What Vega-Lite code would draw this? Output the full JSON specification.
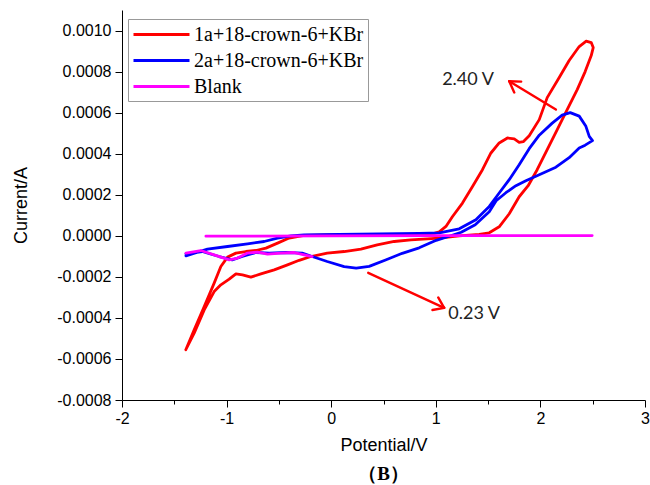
{
  "$schema": "https://vega.github.io/schema/vega-lite/v6.json",
  "width": 523,
  "height": 390,
  "autosize": "none",
  "padding": {"left": 122, "top": 10, "right": 5, "bottom": 85},
  "background": "white",
  "title": {"text": "（B）", "orient": "bottom", "anchor": "middle", "frame": "group", "offset": 11, "font": "Liberation Serif", "fontSize": 19, "fontWeight": "bold", "color": "#000"},
  "config": {
    "view": {"stroke": null},
    "axis": {"labelFont": "Liberation Sans", "labelFontSize": 16, "labelColor": "#000", "titleFont": "Liberation Sans", "titleFontSize": 18, "titleFontWeight": "normal", "titleColor": "#000", "domainColor": "#000", "tickColor": "#000", "grid": false, "labelOverlap": false, "labelBound": false, "labelFlush": false}
  },
  "datasets": {
    "cv": [
      {"series": "1a+18-crown-6+KBr", "seg": "a", "i": 1, "potential": -1.39, "current": -0.000555},
      {"series": "1a+18-crown-6+KBr", "seg": "a", "i": 2, "potential": -1.31, "current": -0.0004585},
      {"series": "1a+18-crown-6+KBr", "seg": "a", "i": 3, "potential": -1.214, "current": -0.0003449},
      {"series": "1a+18-crown-6+KBr", "seg": "a", "i": 4, "potential": -1.119, "current": -0.0002307},
      {"series": "1a+18-crown-6+KBr", "seg": "a", "i": 5, "potential": -1.055, "current": -0.0001498},
      {"series": "1a+18-crown-6+KBr", "seg": "a", "i": 6, "potential": -0.991, "current": -0.0001039},
      {"series": "1a+18-crown-6+KBr", "seg": "a", "i": 7, "potential": -0.911, "current": -0.0000844},
      {"series": "1a+18-crown-6+KBr", "seg": "a", "i": 8, "potential": -0.816, "current": -0.0000766},
      {"series": "1a+18-crown-6+KBr", "seg": "a", "i": 9, "potential": -0.72, "current": -0.0000717},
      {"series": "1a+18-crown-6+KBr", "seg": "a", "i": 10, "potential": -0.624, "current": -0.00006},
      {"series": "1a+18-crown-6+KBr", "seg": "a", "i": 11, "potential": -0.513, "current": -0.0000356},
      {"series": "1a+18-crown-6+KBr", "seg": "a", "i": 12, "potential": -0.402, "current": -0.0000112},
      {"series": "1a+18-crown-6+KBr", "seg": "a", "i": 13, "potential": -0.258, "current": 0.0000024},
      {"series": "1a+18-crown-6+KBr", "seg": "a", "i": 14, "potential": -0.019, "current": 0.0000049},
      {"series": "1a+18-crown-6+KBr", "seg": "a", "i": 15, "potential": 0.268, "current": 0.0000049},
      {"series": "1a+18-crown-6+KBr", "seg": "a", "i": 16, "potential": 0.554, "current": 0.0000049},
      {"series": "1a+18-crown-6+KBr", "seg": "a", "i": 17, "potential": 0.841, "current": 0.0000073},
      {"series": "1a+18-crown-6+KBr", "seg": "a", "i": 18, "potential": 0.985, "current": 0.0000122},
      {"series": "1a+18-crown-6+KBr", "seg": "a", "i": 19, "potential": 1.033, "current": 0.0000195},
      {"series": "1a+18-crown-6+KBr", "seg": "a", "i": 20, "potential": 1.097, "current": 0.0000454},
      {"series": "1a+18-crown-6+KBr", "seg": "a", "i": 21, "potential": 1.16, "current": 0.0000941},
      {"series": "1a+18-crown-6+KBr", "seg": "a", "i": 22, "potential": 1.255, "current": 0.0001595},
      {"series": "1a+18-crown-6+KBr", "seg": "a", "i": 23, "potential": 1.351, "current": 0.0002405},
      {"series": "1a+18-crown-6+KBr", "seg": "a", "i": 24, "potential": 1.446, "current": 0.000322},
      {"series": "1a+18-crown-6+KBr", "seg": "a", "i": 25, "potential": 1.527, "current": 0.0004034},
      {"series": "1a+18-crown-6+KBr", "seg": "a", "i": 26, "potential": 1.606, "current": 0.0004522},
      {"series": "1a+18-crown-6+KBr", "seg": "a", "i": 27, "potential": 1.685, "current": 0.0004766},
      {"series": "1a+18-crown-6+KBr", "seg": "a", "i": 28, "potential": 1.75, "current": 0.0004717},
      {"series": "1a+18-crown-6+KBr", "seg": "a", "i": 29, "potential": 1.797, "current": 0.0004551},
      {"series": "1a+18-crown-6+KBr", "seg": "a", "i": 30, "potential": 1.836, "current": 0.0004585},
      {"series": "1a+18-crown-6+KBr", "seg": "a", "i": 31, "potential": 1.893, "current": 0.0004878},
      {"series": "1a+18-crown-6+KBr", "seg": "a", "i": 32, "potential": 1.989, "current": 0.0005659},
      {"series": "1a+18-crown-6+KBr", "seg": "a", "i": 33, "potential": 2.065, "current": 0.0006732},
      {"series": "1a+18-crown-6+KBr", "seg": "a", "i": 34, "potential": 2.18, "current": 0.0007707},
      {"series": "1a+18-crown-6+KBr", "seg": "a", "i": 35, "potential": 2.275, "current": 0.0008537},
      {"series": "1a+18-crown-6+KBr", "seg": "a", "i": 36, "potential": 2.371, "current": 0.000922},
      {"series": "1a+18-crown-6+KBr", "seg": "a", "i": 37, "potential": 2.438, "current": 0.0009488},
      {"series": "1a+18-crown-6+KBr", "seg": "a", "i": 38, "potential": 2.486, "current": 0.0009415},
      {"series": "1a+18-crown-6+KBr", "seg": "a", "i": 39, "potential": 2.505, "current": 0.0009171},
      {"series": "1a+18-crown-6+KBr", "seg": "a", "i": 40, "potential": 2.486, "current": 0.000878},
      {"series": "1a+18-crown-6+KBr", "seg": "a", "i": 41, "potential": 2.428, "current": 0.0008},
      {"series": "1a+18-crown-6+KBr", "seg": "a", "i": 42, "potential": 2.352, "current": 0.0007122},
      {"series": "1a+18-crown-6+KBr", "seg": "a", "i": 43, "potential": 2.256, "current": 0.0006146},
      {"series": "1a+18-crown-6+KBr", "seg": "a", "i": 44, "potential": 2.161, "current": 0.0005171},
      {"series": "1a+18-crown-6+KBr", "seg": "a", "i": 45, "potential": 2.065, "current": 0.0004195},
      {"series": "1a+18-crown-6+KBr", "seg": "a", "i": 46, "potential": 1.969, "current": 0.000322},
      {"series": "1a+18-crown-6+KBr", "seg": "a", "i": 47, "potential": 1.883, "current": 0.0002439},
      {"series": "1a+18-crown-6+KBr", "seg": "a", "i": 48, "potential": 1.797, "current": 0.0001902},
      {"series": "1a+18-crown-6+KBr", "seg": "a", "i": 49, "potential": 1.702, "current": 0.0001073},
      {"series": "1a+18-crown-6+KBr", "seg": "a", "i": 50, "potential": 1.606, "current": 0.0000439},
      {"series": "1a+18-crown-6+KBr", "seg": "a", "i": 51, "potential": 1.511, "current": 0.0000146},
      {"series": "1a+18-crown-6+KBr", "seg": "a", "i": 52, "potential": 1.415, "current": 0.0000073},
      {"series": "1a+18-crown-6+KBr", "seg": "a", "i": 53, "potential": 1.224, "current": 0.0},
      {"series": "1a+18-crown-6+KBr", "seg": "a", "i": 54, "potential": 1.033, "current": -0.0000112},
      {"series": "1a+18-crown-6+KBr", "seg": "a", "i": 55, "potential": 0.918, "current": -0.0000146},
      {"series": "1a+18-crown-6+KBr", "seg": "a", "i": 56, "potential": 0.762, "current": -0.0000195},
      {"series": "1a+18-crown-6+KBr", "seg": "a", "i": 57, "potential": 0.602, "current": -0.0000278},
      {"series": "1a+18-crown-6+KBr", "seg": "a", "i": 58, "potential": 0.44, "current": -0.0000439},
      {"series": "1a+18-crown-6+KBr", "seg": "a", "i": 59, "potential": 0.284, "current": -0.0000649},
      {"series": "1a+18-crown-6+KBr", "seg": "a", "i": 60, "potential": 0.124, "current": -0.0000766},
      {"series": "1a+18-crown-6+KBr", "seg": "a", "i": 61, "potential": -0.038, "current": -0.0000844},
      {"series": "1a+18-crown-6+KBr", "seg": "a", "i": 62, "potential": -0.194, "current": -0.000101},
      {"series": "1a+18-crown-6+KBr", "seg": "a", "i": 63, "potential": -0.306, "current": -0.0001195},
      {"series": "1a+18-crown-6+KBr", "seg": "a", "i": 64, "potential": -0.418, "current": -0.0001415},
      {"series": "1a+18-crown-6+KBr", "seg": "a", "i": 65, "potential": -0.545, "current": -0.0001659},
      {"series": "1a+18-crown-6+KBr", "seg": "a", "i": 66, "potential": -0.672, "current": -0.0001854},
      {"series": "1a+18-crown-6+KBr", "seg": "a", "i": 67, "potential": -0.768, "current": -0.0002015},
      {"series": "1a+18-crown-6+KBr", "seg": "a", "i": 68, "potential": -0.848, "current": -0.0001902},
      {"series": "1a+18-crown-6+KBr", "seg": "a", "i": 69, "potential": -0.911, "current": -0.0001854},
      {"series": "1a+18-crown-6+KBr", "seg": "a", "i": 70, "potential": -0.975, "current": -0.0002112},
      {"series": "1a+18-crown-6+KBr", "seg": "a", "i": 71, "potential": -1.055, "current": -0.000239},
      {"series": "1a+18-crown-6+KBr", "seg": "a", "i": 72, "potential": -1.119, "current": -0.0002717},
      {"series": "1a+18-crown-6+KBr", "seg": "a", "i": 73, "potential": -1.214, "current": -0.000361},
      {"series": "1a+18-crown-6+KBr", "seg": "a", "i": 74, "potential": -1.31, "current": -0.0004746},
      {"series": "1a+18-crown-6+KBr", "seg": "a", "i": 75, "potential": -1.39, "current": -0.000555},

      {"series": "2a+18-crown-6+KBr", "seg": "a", "i": 1, "potential": -1.389, "current": -0.0000976},
      {"series": "2a+18-crown-6+KBr", "seg": "a", "i": 2, "potential": -1.183, "current": -0.0000649},
      {"series": "2a+18-crown-6+KBr", "seg": "a", "i": 3, "potential": -0.991, "current": -0.0000522},
      {"series": "2a+18-crown-6+KBr", "seg": "a", "i": 4, "potential": -0.8, "current": -0.000039},
      {"series": "2a+18-crown-6+KBr", "seg": "a", "i": 5, "potential": -0.641, "current": -0.0000278},
      {"series": "2a+18-crown-6+KBr", "seg": "a", "i": 6, "potential": -0.513, "current": -0.0000112},
      {"series": "2a+18-crown-6+KBr", "seg": "a", "i": 7, "potential": -0.385, "current": 0.0},
      {"series": "2a+18-crown-6+KBr", "seg": "a", "i": 8, "potential": -0.258, "current": 0.0000049},
      {"series": "2a+18-crown-6+KBr", "seg": "a", "i": 9, "potential": 0.076, "current": 0.0000073},
      {"series": "2a+18-crown-6+KBr", "seg": "a", "i": 10, "potential": 0.459, "current": 0.0000098},
      {"series": "2a+18-crown-6+KBr", "seg": "a", "i": 11, "potential": 0.841, "current": 0.0000122},
      {"series": "2a+18-crown-6+KBr", "seg": "a", "i": 12, "potential": 1.033, "current": 0.0000146},
      {"series": "2a+18-crown-6+KBr", "seg": "a", "i": 13, "potential": 1.224, "current": 0.0000341},
      {"series": "2a+18-crown-6+KBr", "seg": "a", "i": 14, "potential": 1.383, "current": 0.000078},
      {"series": "2a+18-crown-6+KBr", "seg": "a", "i": 15, "potential": 1.511, "current": 0.0001429},
      {"series": "2a+18-crown-6+KBr", "seg": "a", "i": 16, "potential": 1.606, "current": 0.0002083},
      {"series": "2a+18-crown-6+KBr", "seg": "a", "i": 17, "potential": 1.702, "current": 0.0002732},
      {"series": "2a+18-crown-6+KBr", "seg": "a", "i": 18, "potential": 1.797, "current": 0.0003463},
      {"series": "2a+18-crown-6+KBr", "seg": "a", "i": 19, "potential": 1.893, "current": 0.0004244},
      {"series": "2a+18-crown-6+KBr", "seg": "a", "i": 20, "potential": 1.989, "current": 0.0004902},
      {"series": "2a+18-crown-6+KBr", "seg": "a", "i": 21, "potential": 2.113, "current": 0.0005488},
      {"series": "2a+18-crown-6+KBr", "seg": "a", "i": 22, "potential": 2.208, "current": 0.0005878},
      {"series": "2a+18-crown-6+KBr", "seg": "a", "i": 23, "potential": 2.285, "current": 0.0006},
      {"series": "2a+18-crown-6+KBr", "seg": "a", "i": 24, "potential": 2.371, "current": 0.0005829},
      {"series": "2a+18-crown-6+KBr", "seg": "a", "i": 25, "potential": 2.435, "current": 0.0005332},
      {"series": "2a+18-crown-6+KBr", "seg": "a", "i": 26, "potential": 2.467, "current": 0.0004844},
      {"series": "2a+18-crown-6+KBr", "seg": "a", "i": 27, "potential": 2.498, "current": 0.0004634},
      {"series": "2a+18-crown-6+KBr", "seg": "a", "i": 28, "potential": 2.428, "current": 0.0004415},
      {"series": "2a+18-crown-6+KBr", "seg": "a", "i": 29, "potential": 2.371, "current": 0.0004278},
      {"series": "2a+18-crown-6+KBr", "seg": "a", "i": 30, "potential": 2.275, "current": 0.0003805},
      {"series": "2a+18-crown-6+KBr", "seg": "a", "i": 31, "potential": 2.148, "current": 0.0003341},
      {"series": "2a+18-crown-6+KBr", "seg": "a", "i": 32, "potential": 1.989, "current": 0.0002976},
      {"series": "2a+18-crown-6+KBr", "seg": "a", "i": 33, "potential": 1.861, "current": 0.0002683},
      {"series": "2a+18-crown-6+KBr", "seg": "a", "i": 34, "potential": 1.766, "current": 0.0002439},
      {"series": "2a+18-crown-6+KBr", "seg": "a", "i": 35, "potential": 1.67, "current": 0.0002098},
      {"series": "2a+18-crown-6+KBr", "seg": "a", "i": 36, "potential": 1.577, "current": 0.0001707},
      {"series": "2a+18-crown-6+KBr", "seg": "a", "i": 37, "potential": 1.511, "current": 0.0001171},
      {"series": "2a+18-crown-6+KBr", "seg": "a", "i": 38, "potential": 1.377, "current": 0.0000537},
      {"series": "2a+18-crown-6+KBr", "seg": "a", "i": 39, "potential": 1.243, "current": 0.0000171},
      {"series": "2a+18-crown-6+KBr", "seg": "a", "i": 40, "potential": 1.157, "current": 0.0000024},
      {"series": "2a+18-crown-6+KBr", "seg": "a", "i": 41, "potential": 1.004, "current": -0.000022},
      {"series": "2a+18-crown-6+KBr", "seg": "a", "i": 42, "potential": 0.841, "current": -0.0000585},
      {"series": "2a+18-crown-6+KBr", "seg": "a", "i": 43, "potential": 0.679, "current": -0.0000854},
      {"series": "2a+18-crown-6+KBr", "seg": "a", "i": 44, "potential": 0.526, "current": -0.0001171},
      {"series": "2a+18-crown-6+KBr", "seg": "a", "i": 45, "potential": 0.363, "current": -0.0001488},
      {"series": "2a+18-crown-6+KBr", "seg": "a", "i": 46, "potential": 0.239, "current": -0.0001576},
      {"series": "2a+18-crown-6+KBr", "seg": "a", "i": 47, "potential": 0.124, "current": -0.0001498},
      {"series": "2a+18-crown-6+KBr", "seg": "a", "i": 48, "potential": -0.038, "current": -0.0001254},
      {"series": "2a+18-crown-6+KBr", "seg": "a", "i": 49, "potential": -0.182, "current": -0.000101},
      {"series": "2a+18-crown-6+KBr", "seg": "a", "i": 50, "potential": -0.277, "current": -0.0000844},
      {"series": "2a+18-crown-6+KBr", "seg": "a", "i": 51, "potential": -0.433, "current": -0.0000815},
      {"series": "2a+18-crown-6+KBr", "seg": "a", "i": 52, "potential": -0.593, "current": -0.0000844},
      {"series": "2a+18-crown-6+KBr", "seg": "a", "i": 53, "potential": -0.72, "current": -0.0000815},
      {"series": "2a+18-crown-6+KBr", "seg": "a", "i": 54, "potential": -0.851, "current": -0.000101},
      {"series": "2a+18-crown-6+KBr", "seg": "a", "i": 55, "potential": -0.946, "current": -0.0001171},
      {"series": "2a+18-crown-6+KBr", "seg": "a", "i": 56, "potential": -1.071, "current": -0.000101},
      {"series": "2a+18-crown-6+KBr", "seg": "a", "i": 57, "potential": -1.233, "current": -0.0000766},
      {"series": "2a+18-crown-6+KBr", "seg": "a", "i": 58, "potential": -1.389, "current": -0.0000878},

      {"series": "Blank", "seg": "a", "i": 1, "potential": -1.389, "current": -0.0000844},
      {"series": "Blank", "seg": "a", "i": 2, "potential": -1.246, "current": -0.0000717},
      {"series": "Blank", "seg": "a", "i": 3, "potential": -1.119, "current": -0.0000927},
      {"series": "Blank", "seg": "a", "i": 4, "potential": -0.975, "current": -0.0001171},
      {"series": "Blank", "seg": "a", "i": 5, "potential": -0.896, "current": -0.0001088},
      {"series": "Blank", "seg": "a", "i": 6, "potential": -0.8, "current": -0.0000844},
      {"series": "Blank", "seg": "a", "i": 7, "potential": -0.705, "current": -0.0000795},
      {"series": "Blank", "seg": "a", "i": 8, "potential": -0.609, "current": -0.0000893},
      {"series": "Blank", "seg": "a", "i": 9, "potential": -0.481, "current": -0.0000844},
      {"series": "Blank", "seg": "a", "i": 10, "potential": -0.354, "current": -0.0000815},
      {"series": "Blank", "seg": "a", "i": 11, "potential": -0.258, "current": -0.0000927},
      {"series": "Blank", "seg": "a", "i": 12, "potential": -0.182, "current": -0.000101},
      {"series": "Blank", "seg": "b", "i": 13, "potential": -1.198, "current": -0.000002},
      {"series": "Blank", "seg": "b", "i": 14, "potential": 0.0, "current": 0.0},
      {"series": "Blank", "seg": "b", "i": 15, "potential": 1.0, "current": 0.000001},
      {"series": "Blank", "seg": "b", "i": 16, "potential": 2.495, "current": 0.000001}
    ],
    "arrows": [
      {"potential": 2.148, "current": 0.000615, "potential2": 1.702, "current2": 0.000753},
      {"potential": 1.702, "current": 0.000753, "potential2": 1.75, "current2": 0.000698},
      {"potential": 1.702, "current": 0.000753, "potential2": 1.816, "current2": 0.000751},
      {"potential": 0.354, "current": -0.0001805, "potential2": 1.08, "current2": -0.000351},
      {"potential": 1.08, "current": -0.000351, "potential2": 1.023, "current2": -0.0003005},
      {"potential": 1.08, "current": -0.000351, "potential2": 0.968, "current2": -0.0003615}
    ],
    "notes": [
      {"label": "2.40 V", "potential": 1.061, "current": 0.000761},
      {"label": "0.23 V", "potential": 1.119, "current": -0.00038}
    ]
  },
  "layer": [
    {
      "data": {"name": "cv"},
      "transform": [{"filter": "datum.series === '1a+18-crown-6+KBr'"}],
      "mark": {"type": "line", "strokeWidth": 2.8, "strokeJoin": "round", "strokeCap": "round"},
      "encoding": {
        "x": {"field": "potential", "type": "quantitative", "scale": {"domain": [-2, 3], "nice": false, "zero": false},
              "axis": {"title": "Potential/V", "values": [-2, -1.5, -1, -0.5, 0, 0.5, 1, 1.5, 2, 2.5, 3],
                       "labelExpr": "datum.value % 1 === 0 ? '' + datum.value : ''",
                       "tickSize": {"condition": {"test": "datum.value % 1 === 0", "value": 7}, "value": 4},
                       "labelPadding": 3, "titlePadding": 10}},
        "y": {"field": "current", "type": "quantitative", "scale": {"domain": [-0.0008, 0.0011], "nice": false, "zero": false},
              "axis": {"title": "Current/A", "values": [-0.0008, -0.0007, -0.0006, -0.0005, -0.0004, -0.0003, -0.0002, -0.0001, 0, 0.0001, 0.0002, 0.0003, 0.0004, 0.0005, 0.0006, 0.0007, 0.0008, 0.0009, 0.001],
                       "labelExpr": "round(datum.value * 10000) % 2 === 0 ? replace(format(datum.value, '.4f'), '\u2212', '-') : ''",
                       "tickSize": {"condition": {"test": "round(datum.value * 10000) % 2 === 0", "value": 7}, "value": 4},
                       "labelPadding": 4, "titlePadding": 26}},
        "color": {"field": "series", "type": "nominal",
                  "scale": {"domain": ["1a+18-crown-6+KBr", "2a+18-crown-6+KBr", "Blank"], "range": ["#ff0000", "#0000ff", "#ff00ff"]},
                  "legend": {"title": null, "orient": "none", "legendX": 6, "legendY": 9, "symbolType": "M-2.8,0L2.8,0", "symbolStrokeWidth": 3, "symbolSize": 400,
                             "symbolOffset": 18, "labelOffset": 21, "labelLimit": 0,
                             "labelFont": "Liberation Serif", "labelFontSize": 20, "labelColor": "#000",
                             "strokeColor": "#999", "fillColor": "white", "padding": 4, "rowPadding": 4}},
        "order": {"field": "i", "type": "quantitative"},
        "detail": {"field": "seg"}
      }
    },
    {
      "data": {"name": "cv"},
      "transform": [{"filter": "datum.series === '2a+18-crown-6+KBr'"}],
      "mark": {"type": "line", "strokeWidth": 2.8, "strokeJoin": "round", "strokeCap": "round"},
      "encoding": {
        "x": {"field": "potential", "type": "quantitative"},
        "y": {"field": "current", "type": "quantitative"},
        "color": {"field": "series", "type": "nominal"},
        "order": {"field": "i", "type": "quantitative"},
        "detail": {"field": "seg"}
      }
    },
    {
      "data": {"name": "cv"},
      "transform": [{"filter": "datum.series === 'Blank'"}],
      "mark": {"type": "line", "strokeWidth": 2.8, "strokeJoin": "round", "strokeCap": "round"},
      "encoding": {
        "x": {"field": "potential", "type": "quantitative"},
        "y": {"field": "current", "type": "quantitative"},
        "color": {"field": "series", "type": "nominal"},
        "order": {"field": "i", "type": "quantitative"},
        "detail": {"field": "seg"}
      }
    },
    {
      "data": {"name": "arrows"},
      "mark": {"type": "rule", "color": "#ff0000", "strokeWidth": 2.4, "strokeCap": "round"},
      "encoding": {
        "x": {"field": "potential", "type": "quantitative"},
        "y": {"field": "current", "type": "quantitative"},
        "x2": {"field": "potential2"},
        "y2": {"field": "current2"}
      }
    },
    {
      "data": {"name": "notes"},
      "mark": {"type": "text", "align": "left", "baseline": "middle", "font": "Lato", "fontSize": 18, "color": "#222"},
      "encoding": {
        "x": {"field": "potential", "type": "quantitative"},
        "y": {"field": "current", "type": "quantitative"},
        "text": {"field": "label"}
      }
    }
  ]
}
